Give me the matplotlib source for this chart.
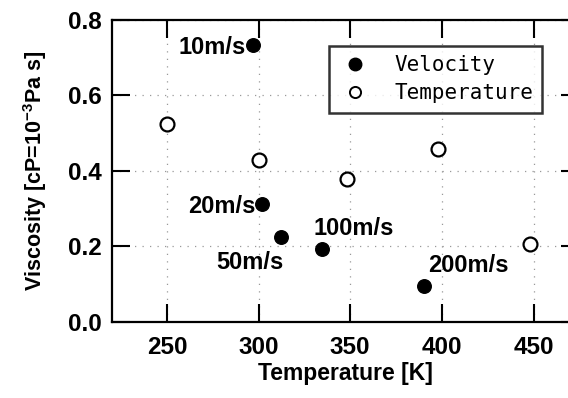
import matplotlib
matplotlib.use("Agg")
import matplotlib.pyplot as plt
from matplotlib.lines import Line2D

plt.rcParams['font.family'] = ['Liberation Sans', 'DejaVu Sans']
plt.rcParams['mathtext.default'] = 'regular'

# 速度依存（黒丸）
vel_temp = [297, 302, 312, 334.5, 390.5]
vel_visc = [0.734, 0.313, 0.225, 0.193, 0.095]
vel_labels = ['10m/s', '20m/s', '50m/s', '100m/s', '200m/s']
# ラベル位置のオフセット（ポイント）
label_offsets = [(-5, -2), (-5, -2), (2, -18), (-6, 15), (3, 15)]
label_ha = ['right', 'right', 'right', 'left', 'left']

# 温度依存（白丸）
tmp_temp = [250, 300, 348, 398, 448]
tmp_visc = [0.524, 0.429, 0.379, 0.458, 0.207]

fig = plt.figure(figsize=(5.68, 3.98), dpi=100)
ax = fig.add_axes([0.197, 0.191, 0.823, 0.759])

ax.scatter(vel_temp, vel_visc, s=95, c='black', zorder=3)
ax.scatter(tmp_temp, tmp_visc, s=100, facecolors='white', edgecolors='black',
           linewidths=1.6, zorder=3)

for x, y, lab, off, ha in zip(vel_temp, vel_visc, vel_labels, label_offsets, label_ha):
    ax.annotate(lab, (x, y), xytext=off, textcoords='offset points',
                ha=ha, va='center', fontsize=17, fontweight='bold')

ax.set_xlim(220, 475)
ax.set_ylim(0, 0.8)
ax.set_xticks([250, 300, 350, 400, 450])
ax.set_yticks([0.0, 0.2, 0.4, 0.6, 0.8])
ax.set_yticklabels(['0.0', '0.2', '0.4', '0.6', '0.8'])

ax.grid(True, color='#999999', linestyle=(0, (1, 5)), linewidth=0.9)
ax.tick_params(direction='in', length=13, width=1.5, top=True, right=True,
               labelsize=17.5)
ax.tick_params(axis='x', pad=10)
ax.tick_params(axis='y', pad=7)
for t in ax.get_xticklabels() + ax.get_yticklabels():
    t.set_fontweight('bold')
for sp in ax.spines.values():
    sp.set_linewidth(1.6)

ax.set_xlabel('Temperature [K]', fontsize=16.5, fontweight='bold', labelpad=2)
ax.set_ylabel('Viscosity [cP=10$^{-3}$Pa s]', fontsize=15.5, fontweight='bold',
              labelpad=14)

handles = [
    Line2D([], [], linestyle='none', marker='o', markersize=9,
           markerfacecolor='black', markeredgecolor='black'),
    Line2D([], [], linestyle='none', marker='o', markersize=8,
           markerfacecolor='white', markeredgecolor='black', markeredgewidth=1.4),
]
leg = ax.legend(handles, ['Velocity', 'Temperature'],
                loc='upper left', bbox_to_anchor=(0.45, 0.935),
                prop={'family': 'DejaVu Sans Mono', 'size': 15},
                frameon=True, fancybox=False, edgecolor='black',
                handletextpad=1.1, borderpad=0.45, labelspacing=0.4,
                handlelength=1.6, borderaxespad=0.3)
leg.get_frame().set_linewidth(1.8)

fig.savefig('out.png', dpi=100)
